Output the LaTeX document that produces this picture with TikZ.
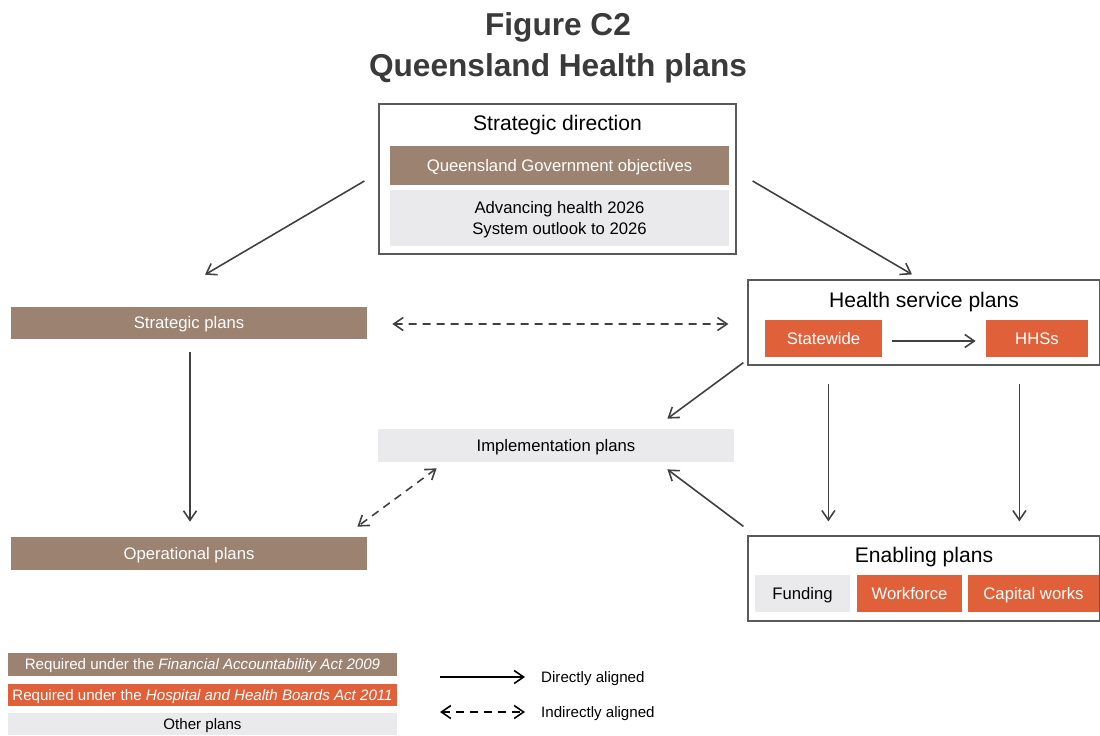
\documentclass[tikz,border=0pt]{standalone}
\usepackage{fontspec}
\setmainfont{Liberation Sans}
\usetikzlibrary{calc,arrows.meta}

\definecolor{fabrown}{HTML}{9C8270}
\definecolor{hhborange}{HTML}{E0603A}
\definecolor{othergrey}{HTML}{EAEAEC}
\definecolor{framegrey}{HTML}{5A5A5A}
\definecolor{linegrey}{HTML}{404040}
\definecolor{titlegrey}{HTML}{3A3A3A}

\tikzset{
	plan/.style={minimum height=6.6mm, inner sep=0pt, align=center,
		text height=7.3pt, text depth=0.5pt,
		font=\fontsize{9.5}{12.5}\selectfont},
	faplan/.style={plan, fill=fabrown, text=white},
	hhbplan/.style={plan, fill=hhborange, text=white},
	otherplan/.style={plan, fill=othergrey, text=black},
	legendbox/.style={minimum width=77.8mm, minimum height=4.5mm, inner sep=0pt,
		text height=6.6pt, text depth=0.5pt,
		font=\fontsize{8.6}{10}\selectfont},
	legendtext/.style={anchor=west, text height=6.6pt, text depth=0.5pt,
		font=\fontsize{8.6}{10}\selectfont},
	group/.style={draw=framegrey, line width=0.7pt, inner sep=0pt},
	grouptitle/.style={text height=9pt, text depth=0.4pt,
		font=\fontsize{12}{14}\selectfont},
	barb/.tip={Straight Barb[length=1.9mm,width=2.6mm]},
	direct/.style={draw=linegrey, line width=0.9pt, -barb},
	indirect/.style={direct, barb-barb, dash pattern=on 1.6mm off 1.2mm},
}

\begin{document}
\begin{tikzpicture}[x=0.2mm, y=-0.2mm]

	% ---- frame

	\useasboundingbox (0,0) rectangle (1100,735);

	% ---- title

	\node[anchor=base, text=titlegrey, font=\fontsize{18}{22}\selectfont\bfseries] (fig) at (558,35) {Figure C2};
	\node[anchor=base, text=titlegrey, font=\fontsize{18}{22}\selectfont\bfseries] (name) at (558,76) {Queensland Health plans};

	% ---- strategic direction

	\node[group, minimum width=71.4mm, minimum height=30mm] (sd) at (557.5,179) {};
	\node[grouptitle] (sdtitle) at (557.5,123) {Strategic direction};
	\node[faplan, minimum width=67.8mm, minimum height=7.8mm] (qgo) at (559.5,165.5) {Queensland Government objectives};
	\node[otherplan, minimum width=67.8mm, minimum height=11.2mm, text height=19.8pt] (ah) at (559.5,218) {Advancing health 2026\\System outlook to 2026};

	% ---- plans on the left

	\node[faplan, minimum width=71.2mm, minimum height=6.4mm] (sp) at (189,323) {Strategic plans};
	\node[faplan, minimum width=71.2mm] (op) at (189,553.5) {Operational plans};

	% ---- implementation

	\node[otherplan, minimum width=71.2mm] (impl) at (556,445.5) {Implementation plans};

	% ---- health service plans

	\node[group, minimum width=70.4mm, minimum height=17mm] (hsp) at (924,322.5) {};
	\node[grouptitle] (hsptitle) at (924,300) {Health service plans};
	\node[hhbplan, minimum width=23.4mm, minimum height=7.4mm] (sw) at (823.5,338.5) {Statewide};
	\node[hhbplan, minimum width=20.4mm, minimum height=7.4mm] (hhs) at (1037,338.5) {HHSs};

	% ---- enabling plans

	\node[group, minimum width=70.4mm, minimum height=17mm] (ep) at (924,578.5) {};
	\node[grouptitle] (eptitle) at (924,555) {Enabling plans};
	\node[otherplan, minimum width=19mm, minimum height=7.4mm] (fund) at (802.5,593.5) {Funding};
	\node[hhbplan, minimum width=21mm, minimum height=7.4mm] (work) at (909.5,593.5) {Workforce};
	\node[hhbplan, minimum width=26.2mm, minimum height=7.4mm] (cap) at (1033.5,593.5) {Capital works};

	% ---- directly aligned

	\draw[direct] ($(sd.west)+(-14,2)$) -- ($(sp.north)+(16,-32)$);
	\draw[direct] ($(sd.east)+(16,2)$) -- ($(hsp.north)+(-12,-5)$);
	\draw[direct] ($(sp.south)+(1,13)$) -- ($(op.north)+(1,-15)$);
	\draw[direct] ($(sw.east)+(10,2.5)$) -- ($(hhs.west)+(-10,2.5)$);
	\draw[direct] ($(hsp.south west)+(-4,-3)$) -- ($(impl.north east)+(-67,-10)$);
	\draw[direct] ($(ep.north west)+(-4,-9)$) -- ($(impl.south east)+(-67,7)$);
	\draw[direct] ($(hsp.south west)+(81,18)$) -- ($(ep.north west)+(81,-14)$);
	\draw[direct] ($(hsp.south west)+(272,18)$) -- ($(ep.north west)+(272,-14)$);

	% ---- indirectly aligned

	\draw[indirect] ($(sp.east)+(25,1)$) -- ($(hsp.west)+(-19,1.5)$);
	\draw[indirect] ($(impl.south west)+(59,6)$) -- ($(op.north east)+(-10,-10)$);

	% ---- legend

	\node[legendbox, fill=fabrown, text=white] (lfa) at (202.5,664.5) {Required under the \textit{Financial Accountability Act 2009}};
	\node[legendbox, fill=hhborange, text=white] (lhhb) at (202.5,695) {Required under the \textit{Hospital and Health Boards Act 2011}};
	\node[legendbox, fill=othergrey, text=black] (lother) at (202.5,724) {Other plans};

	\coordinate (ld1) at (440,677);
	\coordinate (ld2) at (525,677);
	\coordinate (li1) at (440,712);
	\coordinate (li2) at (525,712);

	\draw[direct, draw=black] (ld1) -- (ld2);
	\draw[indirect, draw=black] (li1) -- (li2);

	\node[legendtext] (ldtext) at (535,677) {Directly aligned};
	\node[legendtext] (litext) at (535,712) {Indirectly aligned};

\end{tikzpicture}
\end{document}
